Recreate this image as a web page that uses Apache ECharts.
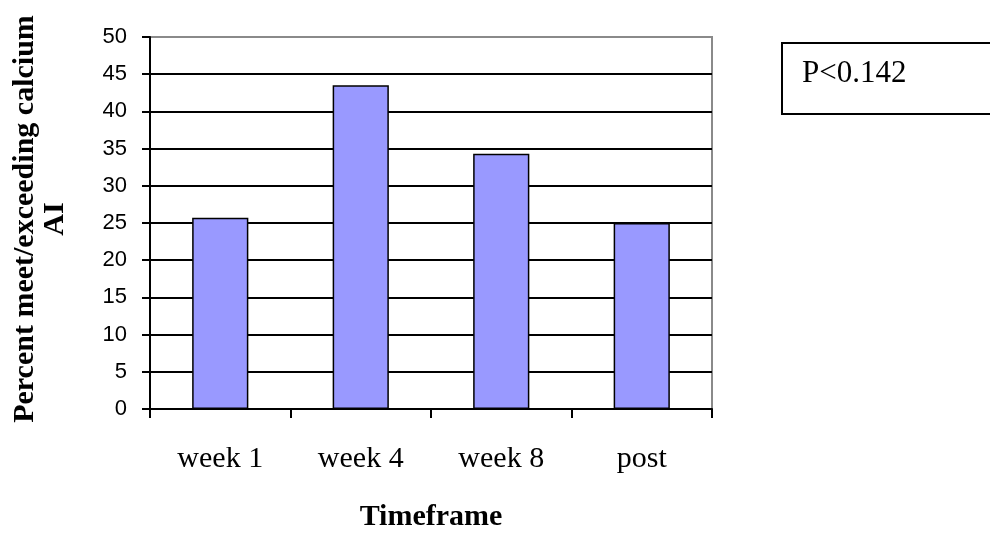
<!DOCTYPE html>
<html>
<head>
<meta charset="utf-8">
<script src="https://cdn.jsdelivr.net/npm/echarts@6/dist/echarts.min.js"></script>
<style>
  html, body { margin: 0; padding: 0; background: #fff; }
  #chart { width: 990px; height: 537px; }
</style>
</head>
<body>
<div id="chart"></div>
<script>
// Share of participants meeting/exceeding the calcium AI at each timeframe
const timeframes = ['week 1', 'week 4', 'week 8', 'post'];
const percentMeeting = [25.7, 43.5, 34.3, 25.0];
const yTicks = [0, 5, 10, 15, 20, 25, 30, 35, 40, 45, 50];
const pValueText = 'P<0.142';

// Gridlines are black; the topmost one doubles as the grey plot border
const gridColors = yTicks.map((t, i) => (i === yTicks.length - 1 ? '#8a8a8a' : '#000'));

const chart = echarts.init(document.getElementById('chart'), null, { renderer: 'canvas' });

chart.setOption({
  animation: false,
  backgroundColor: '#fff',
  grid: {
    left: 150, right: 278, top: 37, bottom: 128,
    containLabel: false,
    outerBoundsMode: 'none',
    show: true, borderColor: '#8a8a8a', borderWidth: 2, backgroundColor: 'transparent'
  },
  xAxis: {
    type: 'category',
    data: timeframes,
    name: 'Timeframe',
    nameLocation: 'middle',
    nameGap: 93,
    nameTextStyle: {
      fontFamily: 'Liberation Serif', fontWeight: 'bold', fontSize: 30, color: '#000'
    },
    axisLine: { lineStyle: { color: '#000', width: 2 } },
    axisTick: { show: true, length: 9, lineStyle: { color: '#000', width: 2 } },
    axisLabel: {
      margin: 35, fontFamily: 'Liberation Serif', fontSize: 30, color: '#000'
    }
  },
  yAxis: {
    type: 'value',
    min: yTicks[0],
    max: yTicks[yTicks.length - 1],
    interval: 5,
    name: 'Percent meet/exceeding calcium\nAI',
    nameLocation: 'middle',
    nameRotate: 90,
    nameGap: 80,
    nameTextStyle: {
      fontFamily: 'Liberation Serif', fontWeight: 'bold', fontSize: 30,
      color: '#000', lineHeight: 30, align: 'center', padding: [0, 0, 0, 8]
    },
    axisLine: { show: true, lineStyle: { color: '#000', width: 2 } },
    axisTick: { show: true, length: 8, lineStyle: { color: '#000', width: 2 } },
    axisLabel: {
      margin: 23, fontFamily: 'Liberation Sans', fontSize: 22, color: '#000'
    },
    splitLine: { show: true, lineStyle: { color: gridColors, width: 2 } }
  },
  series: [{
    type: 'bar',
    data: percentMeeting,
    barWidth: '40%',
    itemStyle: { color: '#9999FF', borderColor: '#000', borderWidth: 1.5 }
  }],
  graphic: [{
    type: 'group',
    left: 781,
    top: 42,
    children: [{
      type: 'rect',
      shape: { x: 0, y: 0, width: 210, height: 71 },
      style: { fill: '#fff', stroke: '#000', lineWidth: 2 }
    }, {
      type: 'text',
      x: 20,
      y: 31,
      style: {
        text: pValueText,
        font: '31px "Liberation Serif"',
        fill: '#000',
        verticalAlign: 'middle'
      }
    }]
  }]
});
</script>
</body>
</html>
